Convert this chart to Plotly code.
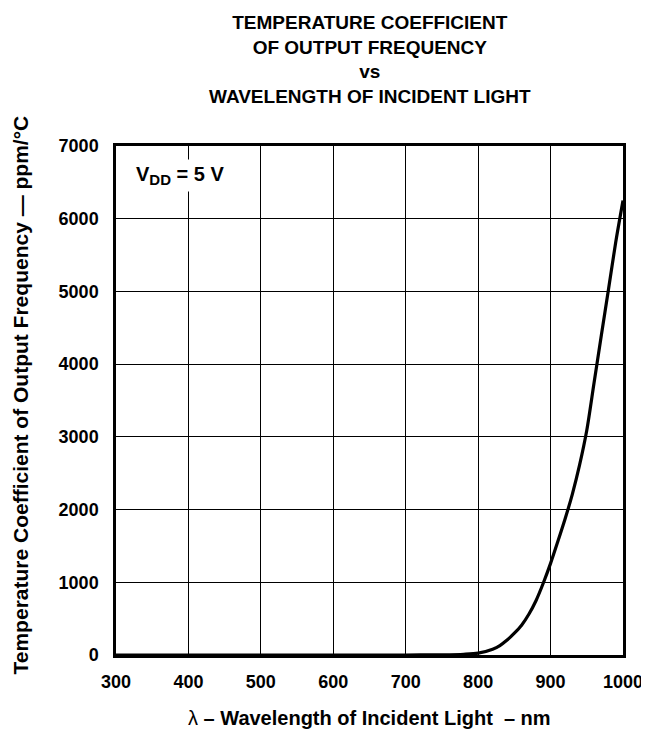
import plotly.graph_objects as go

wavelength_nm = [300, 400, 500, 600, 700, 750, 780, 800, 820, 830, 840, 850, 860, 870,
                 880, 890, 900, 910, 920, 930, 940, 950, 960, 970, 980, 990, 1000]
temp_coeff_ppm = [0, 0, 0, 0, 0, 3, 10, 25, 80, 130, 205, 300, 410, 560,
                  750, 990, 1260, 1560, 1870, 2210, 2610, 3090, 3740, 4390, 5030, 5680, 6250]

x_ticks = [300, 400, 500, 600, 700, 800, 900, 1000]
y_ticks = [0, 1000, 2000, 3000, 4000, 5000, 6000, 7000]

FONT = "Liberation Sans, Arial, sans-serif"

fig = go.Figure()
fig.add_trace(go.Scatter(
    x=wavelength_nm, y=temp_coeff_ppm, mode="lines",
    line=dict(color="black", width=3.2, shape="spline", smoothing=0.8),
    showlegend=False, hoverinfo="skip"))

fig.update_layout(
    width=649, height=731,
    margin=dict(l=108, r=34, t=138, b=84),
    paper_bgcolor="white", plot_bgcolor="white",
    font=dict(family=FONT, color="black"),
    xaxis=dict(range=[300, 1000], tickvals=x_ticks,
               ticktext=[f"<b>{v}</b>" for v in x_ticks],
               showgrid=True, gridcolor="black", gridwidth=1,
               showline=True, linecolor="black", linewidth=2.5, mirror=True,
               zeroline=False, ticks="", ticklabelstandoff=9,
               tickfont=dict(size=18, family=FONT, color="black")),
    yaxis=dict(range=[0, 7000], tickvals=y_ticks,
               ticktext=[f"<b>{v}</b>" for v in y_ticks],
               showgrid=True, gridcolor="black", gridwidth=1,
               showline=True, linecolor="black", linewidth=2.5, mirror=True,
               zeroline=False, ticks="", ticklabelstandoff=11,
               tickfont=dict(size=18, family=FONT, color="black")),
)

annotations = [
    dict(text="<b>TEMPERATURE COEFFICIENT<br>OF OUTPUT FREQUENCY<br>vs<br>WAVELENGTH OF INCIDENT LIGHT</b>",
         xref="paper", yref="paper", x=0.5, y=1, xanchor="center", yanchor="bottom",
         yshift=37, showarrow=False, font=dict(size=19, family=FONT), align="center"),
    dict(text="<b>V<sub><span style='font-size:15px'>DD</span></sub> = 5 V</b>", xref="x", yref="y",
         x=322, y=6600, xanchor="left", yanchor="middle", showarrow=False, bgcolor="white",
         font=dict(size=20, family=FONT), borderpad=3),
    dict(text="λ <b>– Wavelength of Incident Light  – nm</b>",
         xref="paper", yref="paper", x=0.5, y=0, xanchor="center", yanchor="middle",
         yshift=-63, showarrow=False, font=dict(size=20, family=FONT)),
    dict(text="<b>Temperature Coefficient of Output Frequency — ppm/°C</b>",
         xref="paper", yref="paper", x=0, y=0.5, xanchor="center", yanchor="middle",
         xshift=-96, yshift=5, textangle=-90, showarrow=False, font=dict(size=21, family=FONT)),
]
fig.update_layout(annotations=annotations)

fig.write_html("out.html")
